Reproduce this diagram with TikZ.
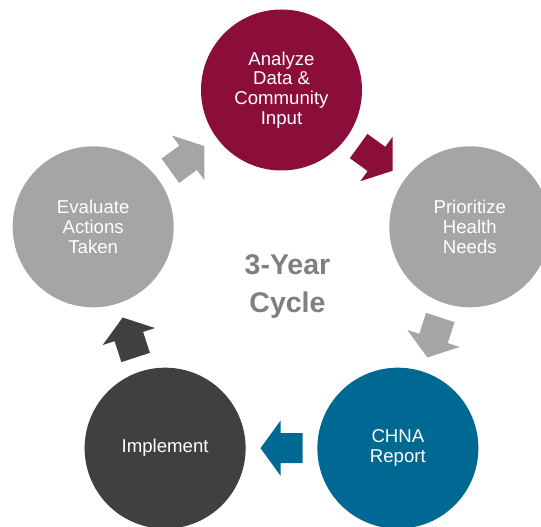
\documentclass[tikz,border=0pt]{standalone}
\usepackage{fontspec}
\setmainfont{Liberation Sans}
\usepackage{tikz}
\usetikzlibrary{calc}

\definecolor{cycmaroon}{HTML}{8B0E3A}
\definecolor{cycgray}{HTML}{A5A5A5}
\definecolor{cycblue}{HTML}{006993}
\definecolor{cycdark}{HTML}{404040}
\definecolor{cyctext}{HTML}{7F7F7F}

\tikzset{
    stage/.style={circle, minimum size=161pt, inner sep=0pt, text=white,
        align=center, font=\fontsize{18.6}{19.8}\selectfont},
    cyclelabel/.style={text=cyctext, align=center,
        font=\fontsize{28.5}{38}\selectfont\bfseries},
    pics/cyclearrow/.style={code={
        \path[pic actions] (-21,-15) -- (1,-15) -- (1,-27.5) -- (21,0)
            -- (1,27.5) -- (1,15) -- (-21,15) -- cycle;
    }}
}

\begin{document}
\begin{tikzpicture}[x=1pt,y=1pt]
                \clip (0,0) rectangle (541,527);
                % Draw the five stages round the cycle
                \begin{scope}[shift={(281.5,239)}]
                    \node[stage, fill=cycmaroon] (analyze) at (90:198) {Analyze\\Data \&\\Community\\Input};
                    \node[stage, fill=cycgray] (prioritize) at (18:198) {Prioritize\\Health\\Needs};
                    \node[stage, fill=cycblue] (report) at (-54:198) {CHNA\\Report};
                    \node[stage, fill=cycdark] (implement) at (-126:198) {Implement};
                    \node[stage, fill=cycgray] (evaluate) at (162:198) {Evaluate\\Actions\\Taken};
                    \node[cyclelabel] (cycle) at (6,1) {3-Year\\Cycle};
                \end{scope}
                % Draw the block arrows between the stages
                \pic[rotate=-36, fill=cycmaroon] at ($(analyze)!0.5!(prioritize)$) {cyclearrow};
                \pic[rotate=-108, fill=cycgray] at ($(prioritize)!0.5!(report)$) {cyclearrow};
                \pic[rotate=180, fill=cycblue] at ($(report)!0.5!(implement)$) {cyclearrow};
                \pic[rotate=108, fill=cycdark] at ($(implement)!0.5!(evaluate)$) {cyclearrow};
                \pic[rotate=36, fill=cycgray] at ($(evaluate)!0.5!(analyze)$) {cyclearrow};
            \end{tikzpicture}
\end{document}
